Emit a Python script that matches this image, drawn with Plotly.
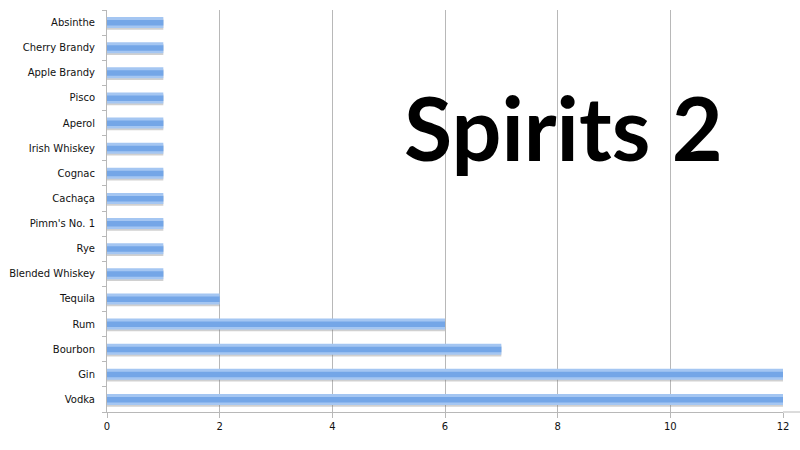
import plotly.graph_objects as go

# Spirits, bottom to top as drawn
spirits = ["Vodka", "Gin", "Bourbon", "Rum", "Tequila", "Blended Whiskey", "Rye",
           "Pimm's No. 1", "Cachaça", "Cognac", "Irish Whiskey", "Aperol", "Pisco",
           "Apple Brandy", "Cherry Brandy", "Absinthe"]
counts = [12, 12, 7, 6, 2, 1, 1, 1, 1, 1, 1, 1, 1, 1, 1, 1]
x_ticks = [0, 2, 4, 6, 8, 10, 12]

bar_w = 0.44

fig = go.Figure()
# soft shadow under each bar
fig.add_trace(go.Bar(y=spirits, x=counts, orientation="h", width=bar_w,
                     offset=-bar_w / 2 - 0.07, marker=dict(color="rgba(120,120,120,0.35)", line_width=0),
                     hoverinfo="skip"))
# main bar body
fig.add_trace(go.Bar(y=spirits, x=counts, orientation="h", width=bar_w,
                     offset=-bar_w / 2, marker=dict(color="#a4c6f2", line_width=0)))
# darker middle band for the glossy look
fig.add_trace(go.Bar(y=spirits, x=counts, orientation="h", width=0.22,
                     offset=-0.12, marker=dict(color="#74a6e7", line_width=0),
                     hoverinfo="skip"))

fig.update_layout(
    width=800, height=450,
    barmode="overlay",
    showlegend=False,
    plot_bgcolor="white", paper_bgcolor="white",
    margin=dict(l=107, r=17, t=10, b=38, autoexpand=False),
    font=dict(family="DejaVu Sans", size=10, color="#111"),
    xaxis=dict(range=[0, 12], tickvals=x_ticks, showgrid=True, gridcolor="#b8b8b8",
               gridwidth=1, showline=True, linecolor="#b8b8b8", ticks="outside",
               ticklen=5, tickcolor="#b8b8b8", zeroline=False, automargin=False,
               tickfont=dict(size=10), fixedrange=True),
    yaxis=dict(type="category", categoryorder="array", categoryarray=spirits,
               showline=True, linecolor="#b8b8b8", ticks="outside", tickson="boundaries",
               ticklen=4, tickcolor="#b8b8b8", showgrid=False, automargin=False,
               ticklabelstandoff=9, tickfont=dict(size=10), fixedrange=True),
    annotations=[dict(text="<b>Spirits 2</b>", x=(402 - 107) / 676, y=0.71,
                      xref="paper", yref="paper",
                      showarrow=False, xanchor="left", yanchor="middle",
                      font=dict(family="Lato", size=88, color="black"))],
    shapes=[dict(type="line", xref="paper", yref="paper", x0=1, x1=1.03, y0=0, y1=0,
                 line=dict(color="#b8b8b8", width=1))],
)

# drop the page's default body margin so the figure sits at the window's corner
fig.write_html("out.html", config={"displayModeBar": False},
               post_script="document.body.style.margin='0';")
